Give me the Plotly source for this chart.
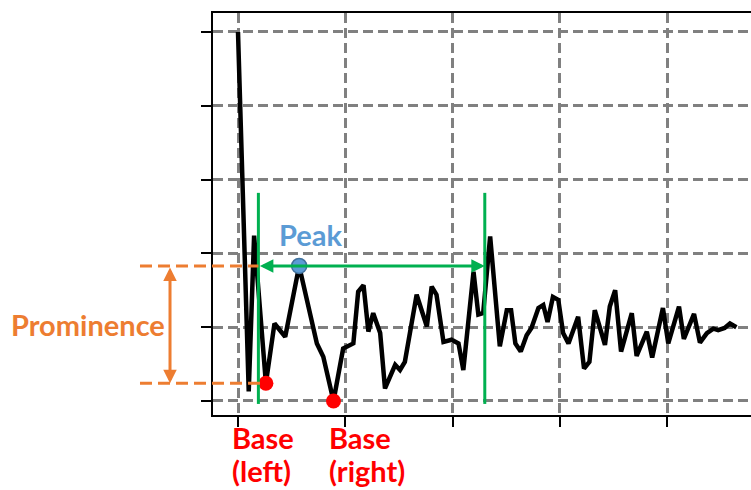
import plotly.graph_objects as go

# Signal samples (position, amplitude)
x_vals = [0.0, 2.0, 3.0, 5.2, 6.8, 8.8, 11.4, 14.7, 15.9, 17.8, 19.6, 21.5, 22.4, 23.4,
          24.3, 25.2, 26.5, 27.4, 29.3, 30.2, 31.1, 33.3, 35.2, 36.1, 37.0, 38.3, 39.8,
          41.1, 42.0, 43.9, 44.8, 45.7, 47.0, 48.8, 50.1, 50.9, 51.7, 52.7, 53.8, 54.7,
          56.0, 56.9, 57.7, 58.7, 59.7, 60.6, 61.6, 63.4, 64.5, 65.5, 66.5, 68.4, 69.3,
          70.3, 71.4, 73.4, 74.3, 76.2, 77.2, 79.2, 80.2, 82.2, 83.1, 85.0, 86.1, 87.4,
          88.6, 89.5, 90.7, 91.7, 92.9]
y_vals = [5.0, 0.13, 2.24, 0.24, 1.05, 0.87, 1.83, 0.78, 0.60, 0.0, 0.71, 0.78, 1.48, 1.57,
          0.94, 1.19, 0.92, 0.17, 0.49, 0.42, 0.53, 1.44, 1.01, 1.55, 1.44, 0.80, 0.83,
          0.78, 0.42, 1.75, 1.17, 1.19, 2.23, 0.74, 1.23, 1.23, 0.78, 0.67, 0.89, 0.99,
          1.26, 1.30, 1.07, 1.41, 1.37, 0.92, 0.78, 1.14, 0.44, 0.53, 1.23, 0.76, 1.28,
          1.50, 0.67, 1.19, 0.61, 0.94, 0.59, 1.26, 0.78, 1.28, 0.84, 1.18, 0.79, 0.92,
          0.98, 0.96, 0.99, 1.05, 1.0]

peak_idx = 6
base_left_idx = 3
base_right_idx = 9
# Search window limits around the peak
window_left = 3.8
window_right = 46.0
window_top = 2.82
window_bottom = -0.04

x_ticks = [0, 20, 40, 60, 80]
y_ticks = [0, 1, 2, 3, 4, 5]

X_RANGE = [-4.66, 95.62]
Y_RANGE = [-0.19, 5.257]

FONT = "Lato"
FONT_SIZE = 29
BLUE = "#5B9BD5"
ORANGE = "#ED7D31"
GREEN = "#00B050"
RED = "#FF0000"


def to_paper_x(v):
    return (v - X_RANGE[0]) / (X_RANGE[1] - X_RANGE[0])


peak_x, peak_y = x_vals[peak_idx], y_vals[peak_idx]
bl_x, bl_y = x_vals[base_left_idx], y_vals[base_left_idx]
br_x, br_y = x_vals[base_right_idx], y_vals[base_right_idx]

fig = go.Figure()

fig.add_trace(go.Scatter(x=x_vals, y=y_vals, mode="lines",
                         line=dict(color="black", width=4.5), hoverinfo="skip"))

# Window boundaries
for wx in (window_left, window_right):
    fig.add_shape(type="line", xref="x", yref="y", x0=wx, x1=wx,
                  y0=window_bottom, y1=window_top,
                  line=dict(color=GREEN, width=3))

# Prominence guide lines
guide_start = -0.1357
fig.add_shape(type="line", xref="paper", yref="y", x0=guide_start, x1=to_paper_x(window_left),
              y0=peak_y, y1=peak_y, line=dict(color=ORANGE, width=3, dash="12px,6px"))
fig.add_shape(type="line", xref="paper", yref="y", x0=guide_start, x1=to_paper_x(bl_x),
              y0=bl_y, y1=bl_y, line=dict(color=ORANGE, width=3, dash="12px,6px"))

# Double-headed arrows
fig.add_annotation(x=window_right, y=peak_y, ax=window_left, ay=peak_y,
                   xref="x", yref="y", axref="x", ayref="y", text="",
                   showarrow=True, arrowside="end+start", arrowhead=2, arrowsize=0.9,
                   arrowwidth=3, arrowcolor=GREEN, standoff=0, startstandoff=0)
fig.add_annotation(x=-0.0799, y=bl_y, ax=0, ay=peak_y,
                   xref="paper", yref="y", axref="pixel", ayref="y", text="",
                   showarrow=True, arrowside="end+start", arrowhead=2, arrowsize=0.9,
                   arrowwidth=3, arrowcolor=ORANGE, standoff=0, startstandoff=0)

# Peak and bases
fig.add_trace(go.Scatter(x=[peak_x], y=[peak_y], mode="markers", cliponaxis=False,
                         marker=dict(size=15, color=BLUE, line=dict(color="#41719C", width=1.5)),
                         hoverinfo="skip"))
fig.add_trace(go.Scatter(x=[bl_x, br_x], y=[bl_y, br_y], mode="markers", cliponaxis=False,
                         marker=dict(size=15, color=RED), hoverinfo="skip"))

# Labels
fig.add_annotation(x=peak_x, y=peak_y, xref="x", yref="y", text="<b>Peak</b>",
                   showarrow=False, xanchor="center", xshift=11, yshift=31,
                   font=dict(family=FONT, size=FONT_SIZE, color=BLUE))
fig.add_annotation(x=-0.2323, y=(peak_y + bl_y) / 2, xref="paper", yref="y",
                   text="<b>Prominence</b>", showarrow=False, xanchor="center",
                   font=dict(family=FONT, size=FONT_SIZE, color=ORANGE))

base_labels = [(bl_x, -36, "Base", "(left)"), (br_x, -7, "Base", "(right)")]
for bx, shift, line1, line2 in base_labels:
    for text, ypos in ((line1, -0.057), (line2, -0.137)):
        fig.add_annotation(x=bx, y=ypos, xref="x", yref="paper", text=f"<b>{text}</b>",
                           showarrow=False, xanchor="left", yanchor="middle", xshift=shift,
                           font=dict(family=FONT, size=FONT_SIZE, color=RED))

grid = dict(showgrid=True, gridcolor="#808080", gridwidth=3, griddash="10px,5px",
            zeroline=False, showticklabels=False, ticks="outside", ticklen=10,
            tickwidth=2, tickcolor="black", showline=True, linecolor="black", linewidth=2)

fig.update_xaxes(range=X_RANGE, tickvals=x_ticks, mirror=True, **grid)
fig.update_yaxes(range=Y_RANGE, tickvals=y_ticks, **grid)

fig.update_layout(width=751, height=490, margin=dict(l=213, r=0, t=13, b=75),
                  plot_bgcolor="white", paper_bgcolor="white", showlegend=False)

fig.write_html("out.html")
